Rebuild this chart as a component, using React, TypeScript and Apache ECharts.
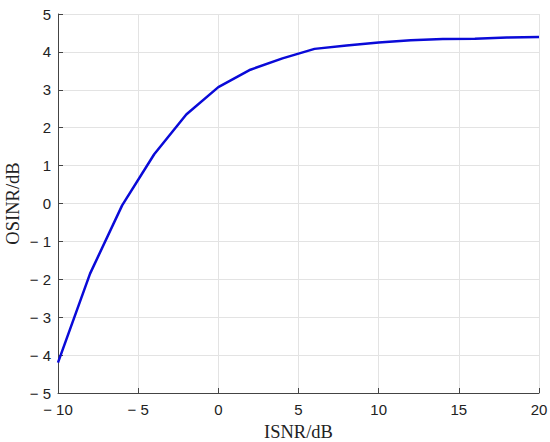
import React, { useEffect, useRef } from "react";
import * as echarts from "echarts";

const isnr = [-10, -8, -6, -4, -2, 0, 2, 4, 6, 8, 10, 12, 14, 16, 18, 20];
const osinr = [-4.2, -1.85, -0.05, 1.3, 2.35, 3.07, 3.53, 3.83, 4.08, 4.17, 4.25, 4.31, 4.34, 4.35, 4.38, 4.39];

const fmt = (v: number) => (v < 0 ? "\u2212 " + Math.abs(v) : String(v));

export default function App() {
  const ref = useRef<HTMLDivElement>(null);
  useEffect(() => {
    if (!ref.current) return;
    const chart = echarts.init(ref.current, undefined, { renderer: "svg" });
    const axisCommon = {
      axisLine: { show: true, onZero: false, lineStyle: { color: "#444", width: 1 } },
      axisTick: { show: true, inside: true, length: 5, lineStyle: { color: "#444" } },
      splitLine: { show: true, lineStyle: { color: "#e3e3e3", width: 1 } },
      axisLabel: {
        color: "#222",
        fontFamily: "Liberation Sans, Arial, sans-serif",
        fontSize: 15,
        formatter: fmt,
      },
      nameLocation: "middle" as const,
      nameMoveOverlap: false,
      nameTextStyle: {
        color: "#222",
        fontFamily: "Liberation Serif, Times New Roman, serif",
        fontSize: 18.5,
      },
    };
    chart.setOption({
      animation: false,
      backgroundColor: "#fff",
      grid: { left: 58, top: 14, right: 11, bottom: 49, containLabel: false, outerBoundsMode: "none" },
      xAxis: {
        type: "value",
        min: -10,
        max: 20,
        interval: 5,
        name: "ISNR/dB",
        nameGap: 29,
        ...axisCommon,
        axisLabel: { ...axisCommon.axisLabel, margin: 9 },
      },
      yAxis: {
        type: "value",
        min: -5,
        max: 5,
        interval: 1,
        name: "OSINR/dB",
        nameGap: 36,
        ...axisCommon,
        axisLabel: { ...axisCommon.axisLabel, margin: 7 },
      },
      series: [
        {
          type: "line",
          data: isnr.map((x, i) => [x, osinr[i]]),
          showSymbol: false,
          lineStyle: { color: "#0a0ad8", width: 2.5 },
        },
      ],
    });
    return () => chart.dispose();
  }, []);
  return <div ref={ref} style={{ width: 550, height: 442, position: "absolute", left: 0, top: 0 }} />;
}
